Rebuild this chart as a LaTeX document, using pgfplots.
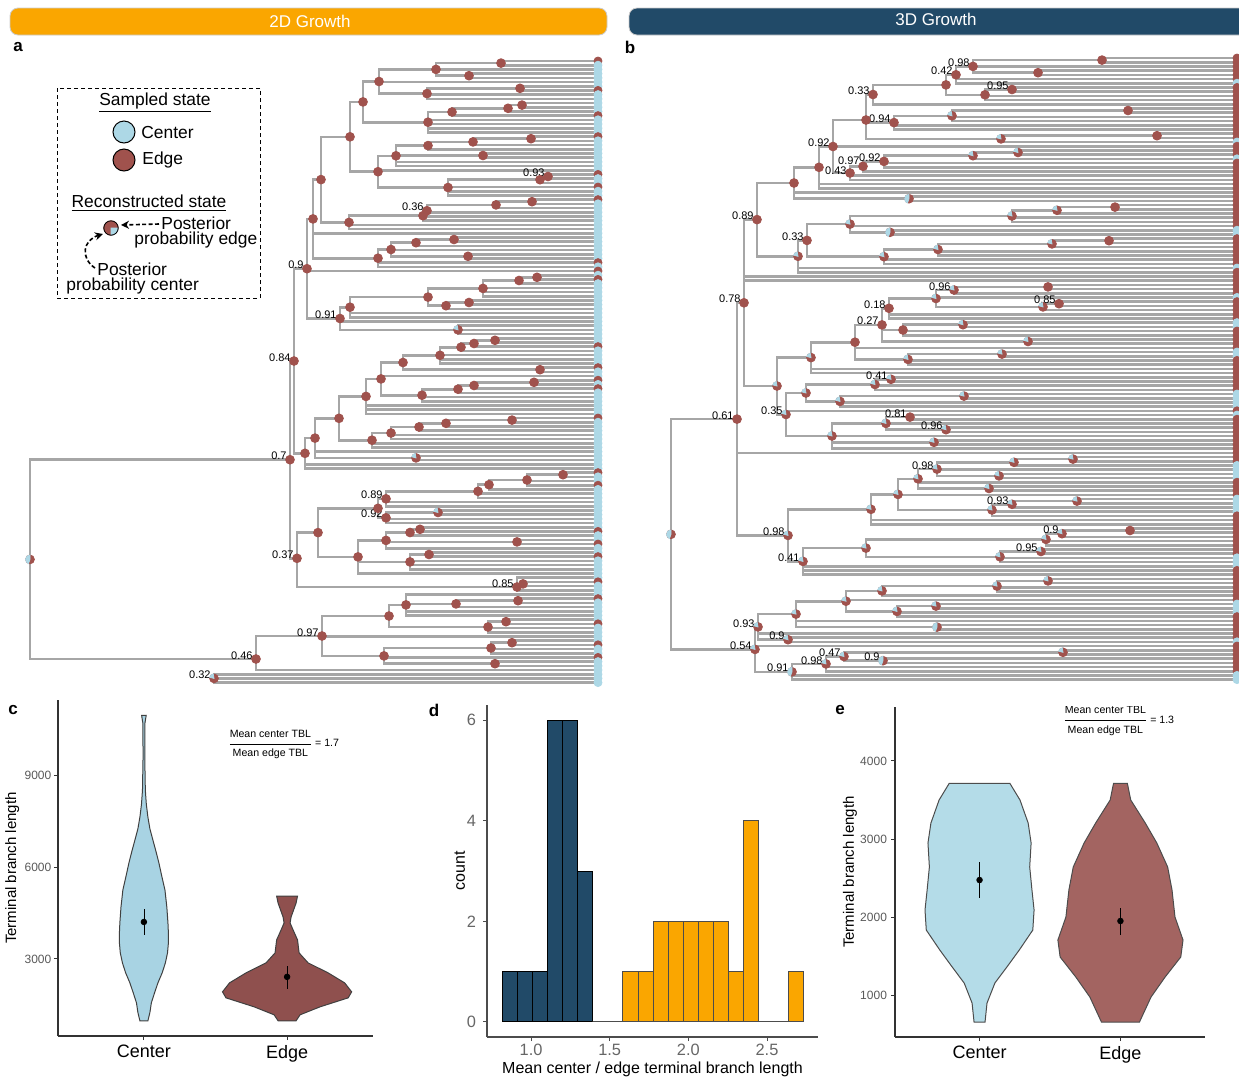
\documentclass[border=0pt]{standalone}
\usepackage{fontspec}
\setmainfont{Liberation Sans}
\usepackage{amsmath}
\usepackage{pgfplots}
\usepackage{pgfplotstable}
\pgfplotsset{compat=1.18}
\usetikzlibrary{arrows.meta}
\definecolor{nodebrown}{RGB}{160,82,77}
\definecolor{tipblue}{RGB}{173,216,230}
\definecolor{treegray}{RGB}{166,166,166}
\definecolor{orangeC}{RGB}{250,166,0}
\definecolor{blueC}{RGB}{33,74,104}
\definecolor{cCen}{RGB}{168,211,227}
\definecolor{cEdg}{RGB}{143,80,78}
\definecolor{eCen}{RGB}{180,220,232}
\definecolor{eEdg}{RGB}{163,100,97}
\pgfdeclareplotmark{bpie}{\fill[nodebrown] (0,0) circle[radius=\pgfplotmarksize];
  \fill[tipblue] (0,0) -- (100:\pgfplotmarksize) arc[start angle=100,end angle=165,radius=\pgfplotmarksize] -- cycle;}
\pgfdeclareplotmark{hpie}{\fill[nodebrown] (0,0) circle[radius=\pgfplotmarksize];
  \fill[tipblue] (0,0) -- (90:\pgfplotmarksize) arc[start angle=90,end angle=250,radius=\pgfplotmarksize] -- cycle;}
\pgfdeclareplotmark{lpie}{\fill[nodebrown] (0,0) circle[radius=\pgfplotmarksize];
  \fill[tipblue] (0,0) -- (-90:\pgfplotmarksize) arc[start angle=-90,end angle=0,radius=\pgfplotmarksize] -- cycle;
  \draw[black,line width=0.4pt] (0,0) circle[radius=\pgfplotmarksize];}
\pgfplotsset{every axis/.append style={/pgf/number format/assume math mode=true,/pgf/number format/1000 sep={}}}
\tikzset{treeline/.style={treegray,line width=1.3pt,line cap=rect}}
\newcommand\plab[3]{\node[anchor=south east,inner sep=0pt,xshift=-1.5pt,yshift=-0.3pt,font=\fontsize{5.5}{6}\selectfont] at (axis cs:#1,#2) {#3};}

\pgfplotstableread{
y xp c
61.0 501 1
65.2 501 0
69.4 436 0
73.6 469 0
77.8 469 0
82.0 379 0
86.2 520 0
90.4 520 1
94.6 427 0
98.8 427 0
103.0 522 0
107.2 522 0
111.4 508 0
115.6 452 1
119.8 428 0
124.0 428 0
128.2 428 0
132.4 428 0
136.6 531 1
140.8 531 0
145.0 473 0
149.2 428 0
153.4 483 0
157.6 483 0
161.8 396 0
166.0 396 0
170.2 378 0
174.4 548 1
178.6 548 0
182.8 540 0
187.0 448 1
191.2 448 0
195.4 448 0
199.6 532 1
203.8 532 0
208.0 496 0
212.2 427 0
216.4 427 0
220.6 423 0
224.8 349 0
229.0 349 0
233.2 313 0
237.4 454 0
241.6 454 0
245.8 416 0
250.0 391 0
254.2 468 0
258.4 468 0
262.6 378 1
266.8 378 0
271.0 307 1
275.2 537 0
279.4 537 1
283.6 519 0
287.8 483 0
292.0 483 0
296.2 483 0
300.4 469 0
304.6 469 0
308.8 446 0
313.0 350 0
317.2 350 0
321.4 340 0
325.6 458 0
329.8 458 0
334.0 458 0
338.2 495 0
342.4 495 0
346.6 474 1
350.8 461 0
355.0 440 0
359.2 440 0
363.4 440 0
367.6 540 1
371.8 540 0
376.0 381 0
380.2 534 1
384.4 534 0
388.6 474 1
392.8 458 0
397.0 422 0
401.2 422 0
405.4 366 0
409.6 366 0
413.8 366 0
418.0 512 1
422.2 512 0
426.4 446 0
430.6 419 0
434.8 391 0
439.0 391 0
443.2 372 0
447.4 372 0
451.6 315 0
455.8 416 0
460.0 416 0
464.2 305 0
468.4 305 0
472.6 563 1
476.8 563 0
481.0 527 0
485.2 527 1
489.4 489 0
493.6 478 0
497.8 478 0
502.0 386 0
506.2 386 0
510.4 438 0
514.6 438 0
518.8 386 0
523.0 386 0
527.2 420 0
531.4 420 1
535.6 410 0
539.8 517 0
544.0 517 1
548.2 386 0
552.4 429 0
556.6 429 1
560.8 410 0
565.0 410 0
569.2 410 0
573.4 358 0
577.6 517 0
581.8 523 1
586.0 523 0
590.2 517 0
594.4 406 0
598.6 518 1
602.8 518 0
607.0 456 0
611.2 406 0
615.4 406 0
619.6 506 0
623.8 506 1
628.0 488 0
632.2 488 0
636.4 322 0
640.6 512 0
644.8 512 1
649.0 491 0
653.2 491 0
657.4 384 1
661.6 495 0
665.8 495 0
670.0 256 0
674.2 214 0
678.4 214 0
682.6 214 0
}\tipsA

\pgfplotstableread{
x y xp yt yb m
501 63.1 436 61.0 65.2 0
469 75.7 436 73.6 77.8 0
436 69.4 379 63.1 75.7 0
520 88.3 427 86.2 90.4 0
427 93.6 379 88.3 98.8 0
379 81.5 363 69.4 93.6 0
522 105.1 508 103.0 107.2 0
508 108.3 452 105.1 111.4 0
452 112.0 428 108.3 115.6 0
428 122.2 363 112.0 132.4 0
363 101.9 350 81.5 122.2 0
531 138.7 473 136.6 140.8 0
473 141.9 428 138.7 145.0 0
428 145.6 396 141.9 149.2 0
483 155.5 396 153.4 157.6 0
396 155.8 378 145.6 166.0 0
548 176.5 540 174.4 178.6 0
540 179.7 448 176.5 182.8 0
448 187.5 378 179.7 195.4 0
378 171.7 350 155.8 187.5 0
350 136.8 321 101.9 171.7 0
532 201.7 496 199.6 203.8 0
496 204.9 427 201.7 208.0 0
427 210.7 423 204.9 216.4 0
423 215.7 349 210.7 220.6 0
349 222.4 321 215.7 229.0 0
321 179.6 313 136.8 222.4 0
454 239.5 416 237.4 241.6 0
416 242.7 391 239.5 245.8 0
468 256.3 391 254.2 258.4 0
391 249.5 378 242.7 256.3 0
378 258.2 313 249.5 266.8 0
313 218.9 307 179.6 258.2 0
537 277.3 519 275.2 279.4 0
519 280.5 483 277.3 283.6 0
483 288.4 428 280.5 296.2 0
469 302.5 446 300.4 304.6 0
446 305.7 428 302.5 308.8 0
428 297.1 350 288.4 305.7 0
350 307.2 340 297.1 317.2 0
458 329.8 340 325.6 334.0 1
340 318.5 307 307.2 329.8 0
307 268.7 294 218.9 318.5 0
495 340.3 474 338.2 342.4 0
474 343.5 461 340.3 346.6 0
461 347.2 440 343.5 350.8 0
440 355.3 403 347.2 363.4 0
540 369.7 403 367.6 371.8 0
403 362.5 381 355.3 369.7 0
534 382.3 474 380.2 384.4 0
474 385.5 458 382.3 388.6 0
458 389.2 422 385.5 392.8 0
422 395.2 381 389.2 401.2 0
381 378.9 366 362.5 395.2 0
366 396.4 339 378.9 413.8 0
512 420.1 446 418.0 422.2 0
446 423.3 419 420.1 426.4 0
419 427.0 391 423.3 430.6 0
391 433.0 372 427.0 439.0 0
372 440.2 339 433.0 447.4 0
339 418.3 315 396.4 440.2 0
416 457.9 315 455.8 460.0 1
315 438.1 305 418.3 457.9 0
305 453.3 294 438.1 468.4 0
294 361.0 290 268.7 453.3 0
563 474.7 527 472.6 476.8 0
527 480.0 489 474.7 485.2 0
489 484.7 478 480.0 489.4 0
478 491.3 386 484.7 497.8 0
386 498.8 378 491.3 506.2 0
438 512.5 386 510.4 514.6 1
386 517.8 378 512.5 523.0 0
378 508.3 318 498.8 517.8 0
420 529.3 410 527.2 531.4 0
410 532.5 386 529.3 535.6 0
517 541.9 386 539.8 544.0 0
386 540.4 358 532.5 548.2 0
429 554.5 410 552.4 556.6 0
410 561.9 358 554.5 569.2 0
358 556.9 318 540.4 573.4 0
318 532.6 297 508.3 556.9 0
523 583.9 517 581.8 586.0 0
517 587.0 297 577.6 590.2 0
297 558.3 290 532.6 587.0 0
290 459.7 30 361.0 558.3 0
518 600.7 456 598.6 602.8 0
456 603.9 406 600.7 607.0 0
406 604.9 389 594.4 615.4 0
506 621.7 488 619.6 623.8 0
488 627.0 389 621.7 632.2 0
389 616.0 322 604.9 627.0 0
512 642.7 491 640.6 644.8 0
491 648.0 384 642.7 653.2 0
495 663.7 384 661.6 665.8 0
384 655.9 322 648.0 663.7 0
322 636.0 256 616.0 655.9 0
256 659.0 30 636.0 670.0 0
214 678.4 214 674.2 682.6 1
30 559.4 30 459.7 659.0 2
}\nodesA

\pgfplotstableread{
y xp c
58.0 1102 1
62.2 1102 1
66.4 973 1
70.6 1038 1
74.8 1038 1
79.0 956 1
83.2 956 0
87.4 1012 1
91.6 1012 1
95.8 985 1
100.0 985 1
104.2 873 1
108.4 1128 1
112.6 1128 1
116.8 952 1
121.0 952 1
125.2 894 1
129.4 894 1
133.6 1157 1
137.8 1157 1
142.0 1001 0
146.2 833 1
150.4 1018 1
154.6 1018 1
158.8 973 0
163.0 884 1
167.2 884 1
171.4 863 1
175.6 850 1
179.8 850 1
184.0 819 1
188.2 819 1
192.4 794 1
196.6 909 1
200.8 909 1
205.0 1115 1
209.2 1115 1
213.4 1057 1
217.6 1012 1
221.8 1012 1
226.0 850 1
230.2 890 0
234.4 890 0
238.6 1109 1
242.8 1109 1
247.0 1052 1
251.2 938 1
255.4 938 1
259.6 884 1
263.8 884 1
268.0 798 0
272.2 798 1
276.4 744 1
280.6 744 1
284.8 1048 1
289.0 1048 1
293.2 954 1
297.4 936 0
301.6 1059 1
305.8 1059 1
310.0 1043 1
314.2 889 1
318.4 889 1
322.6 963 0
326.8 963 0
331.0 903 1
335.2 903 1
339.4 1028 1
343.6 1028 1
347.8 855 1
352.0 1002 0
356.2 1002 0
360.4 908 1
364.6 908 1
368.8 811 1
373.0 811 1
377.2 891 1
381.4 891 1
385.6 875 1
389.8 875 1
394.0 964 0
398.2 964 0
402.4 840 0
406.6 840 0
410.8 786 1
415.0 910 0
419.2 910 1
423.4 886 1
427.6 946 1
431.8 946 1
436.0 832 1
440.2 934 1
444.4 934 1
448.6 832 1
452.8 737 1
457.0 1073 1
461.2 1073 1
465.4 1014 0
469.6 937 0
473.8 999 0
478.0 999 0
482.2 918 1
486.4 989 1
490.6 989 1
494.8 898 1
499.0 1077 0
503.2 1077 0
507.4 1012 0
511.6 992 0
515.8 992 1
520.0 871 1
524.2 871 1
528.4 1130 1
532.6 1130 1
536.8 1062 1
541.0 1046 1
545.2 1046 1
549.4 1041 1
553.6 1041 1
557.8 1000 0
562.0 1000 0
566.2 803 0
570.4 803 1
574.6 803 1
578.8 1048 1
583.0 1048 1
587.2 997 1
591.4 997 1
595.6 882 1
599.8 846 1
604.0 936 0
608.2 936 0
612.4 897 0
616.6 897 1
620.8 796 1
625.0 937 1
629.2 937 1
633.4 758 1
637.6 788 1
641.8 788 0
646.0 755 1
650.2 1063 1
654.4 1063 1
658.6 883 1
662.8 883 1
667.0 826 1
671.2 826 1
675.4 792 0
679.6 792 0
}\tipsB

\pgfplotstableread{
x y xp yt yb m
1102 60.1 973 58.0 62.2 0
1038 72.7 973 70.6 74.8 0
973 66.4 956 60.1 72.7 0
956 74.8 946 66.4 83.2 0
1012 89.5 985 87.4 91.6 0
985 94.8 946 89.5 100.0 0
946 84.9 873 74.8 94.8 0
873 94.5 866 84.9 104.2 0
1128 110.5 952 108.4 112.6 0
952 115.8 894 110.5 121.0 1
894 122.6 866 115.8 129.4 0
1157 135.7 1001 133.6 137.8 0
1001 138.9 866 135.7 142.0 1
866 120.0 833 94.5 138.9 0
1018 152.5 973 150.4 154.6 1
973 155.7 884 152.5 158.8 1
884 161.4 863 155.7 167.2 0
863 166.3 850 161.4 171.4 0
850 173.0 833 166.3 179.8 0
833 146.5 819 120.0 173.0 0
819 167.3 794 146.5 188.2 0
909 198.7 794 196.6 200.8 2
794 183.0 757 167.3 198.7 0
1115 207.1 1057 205.0 209.2 0
1057 210.3 1012 207.1 213.4 1
1012 216.0 850 210.3 221.8 1
890 232.3 850 230.2 234.4 2
850 224.1 807 216.0 232.3 1
1109 240.7 1052 238.6 242.8 0
1052 243.9 938 240.7 247.0 1
938 249.5 884 243.9 255.4 1
884 256.7 807 249.5 263.8 1
807 240.4 798 224.1 256.7 0
798 256.3 757 240.4 272.2 1
757 219.6 744 183.0 256.3 0
1048 286.9 954 284.8 289.0 0
954 290.0 936 286.9 293.2 1
1059 303.7 1043 301.6 305.8 0
1043 306.9 936 303.7 310.0 1
936 298.5 889 290.0 306.9 1
889 308.3 882 298.5 318.4 0
963 324.7 903 322.6 326.8 1
903 330.0 882 324.7 335.2 0
1028 341.5 882 339.4 343.6 1
882 324.9 855 308.3 341.5 0
1002 354.1 908 352.0 356.2 1
908 359.4 855 354.1 364.6 1
855 342.2 811 324.9 359.4 0
811 357.6 777 342.2 373.0 1
891 379.3 875 377.2 381.4 1
875 384.5 806 379.3 389.8 1
964 396.1 840 394.0 398.2 1
840 401.4 806 396.1 406.6 1
806 393.0 786 384.5 401.4 1
910 417.1 886 415.0 419.2 0
946 429.7 886 427.6 431.8 1
886 423.4 832 417.1 429.7 1
934 442.3 832 440.2 444.4 1
832 436.0 786 423.4 448.6 1
786 414.5 777 393.0 436.0 1
777 386.0 744 357.6 414.5 1
744 302.8 737 219.6 386.0 0
1073 459.1 1014 457.0 461.2 1
1014 462.3 937 459.1 465.4 1
999 475.9 937 473.8 478.0 1
937 469.1 918 462.3 475.9 1
989 488.5 918 486.4 490.6 1
918 478.8 898 469.1 488.5 1
1077 501.1 1012 499.0 503.2 1
1012 504.3 992 501.1 507.4 1
992 510.0 898 504.3 515.8 1
898 494.4 871 478.8 510.0 1
871 509.3 788 494.4 524.2 1
1130 530.5 1062 528.4 532.6 0
1062 533.7 1046 530.5 536.8 1
1046 539.4 866 533.7 545.2 1
1041 551.5 1000 549.4 553.6 1
1000 556.8 866 551.5 562.0 1
866 548.1 803 539.4 556.8 1
803 561.4 788 548.1 574.6 1
788 535.4 737 509.3 561.4 1
737 419.1 671 302.8 535.4 0
1048 580.9 997 578.8 583.0 1
997 586.1 882 580.9 591.4 1
882 590.9 846 586.1 595.6 1
936 606.1 897 604.0 608.2 1
897 611.4 846 606.1 616.6 1
846 601.2 796 590.9 611.4 1
937 627.1 796 625.0 629.2 2
796 614.1 758 601.2 627.1 1
788 639.7 758 637.6 641.8 1
758 626.9 755 614.1 639.7 1
1063 652.3 844 650.2 654.4 1
883 660.7 844 658.6 662.8 2
844 656.5 826 652.3 660.7 1
826 663.9 792 656.5 671.2 1
792 671.8 755 663.9 679.6 2
755 649.4 671 626.9 671.8 1
671 534.3 671 419.1 649.4 2
}\nodesB

\begin{document}
\begin{tikzpicture}
\useasboundingbox (0,0) rectangle (619.5pt,-540.5pt);
% ---------------- canvas with trees and legend ----------------
\begin{axis}[at={(0,0)}, anchor=north west, x=0.5pt, y=0.5pt,
  xmin=0, xmax=1239, ymin=0, ymax=1081, y dir=reverse,
  hide axis, clip=false, enlargelimits=false]
% tree a
\addplot[treeline, no markers, quiver={u=\thisrow{x}-\thisrow{xp}, v=0}] table[x=xp,y=y] {\nodesA};
\addplot[treeline, no markers, quiver={u=0, v=\thisrow{yb}-\thisrow{yt}}] table[x=x,y=yt] {\nodesA};
\addplot[treeline, no markers, quiver={u=598-\thisrow{xp}, v=0}] table[x=xp,y=y] {\tipsA};
\addplot[scatter, only marks, scatter src=explicit symbolic, mark size=2pt,
  scatter/classes={0={mark=*,tipblue},1={mark=*,nodebrown}}] table[x expr=598,y=y,meta=c] {\tipsA};
\addplot[scatter, only marks, scatter src=explicit symbolic, mark size=2.2pt,
  scatter/classes={0={mark=*,nodebrown},1={mark=bpie},2={mark=hpie}}] table[x=x,y=y,meta=m] {\nodesA};
% tree b
\addplot[treeline, no markers, quiver={u=\thisrow{x}-\thisrow{xp}, v=0}] table[x=xp,y=y] {\nodesB};
\addplot[treeline, no markers, quiver={u=0, v=\thisrow{yb}-\thisrow{yt}}] table[x=x,y=yt] {\nodesB};
\addplot[treeline, no markers, quiver={u=1237-\thisrow{xp}, v=0}] table[x=xp,y=y] {\tipsB};
\addplot[scatter, only marks, scatter src=explicit symbolic, mark size=2pt,
  scatter/classes={0={mark=*,tipblue},1={mark=*,nodebrown}}] table[x expr=1237,y=y,meta=c] {\tipsB};
\addplot[scatter, only marks, scatter src=explicit symbolic, mark size=2.2pt,
  scatter/classes={0={mark=*,nodebrown},1={mark=bpie},2={mark=hpie}}] table[x=x,y=y,meta=m] {\nodesB};
% legend glyphs
\addplot[only marks, mark=*, mark size=5.5pt, mark options={fill=tipblue,draw=black,line width=0.5pt}] coordinates {(124,132)};
\addplot[only marks, mark=*, mark size=5.5pt, mark options={fill=nodebrown,draw=black,line width=0.5pt}] coordinates {(124,160)};
\addplot[only marks, mark=lpie, mark size=3.6pt] coordinates {(111,228)};
% labels tree a
\plab{548}{176.5}{0.93}\plab{427}{210.7}{0.36}\plab{307}{268.7}{0.9}\plab{340}{318.5}{0.91}
\plab{294}{361.0}{0.84}\plab{290}{459.7}{0.7}\plab{386}{498.8}{0.89}\plab{386}{517.8}{0.92}
\plab{297}{558.3}{0.37}\plab{517}{587.0}{0.85}\plab{322}{636.0}{0.97}\plab{256}{659.0}{0.46}
\plab{214}{678.4}{0.32}
% labels tree b
\plab{973}{66.4}{0.98}\plab{956}{74.8}{0.42}\plab{1012}{89.5}{0.95}\plab{873}{94.5}{0.33}
\plab{894}{122.6}{0.94}\plab{833}{146.5}{0.92}\plab{884}{161.4}{0.92}\plab{863}{164.3}{0.97}
\plab{850}{174.0}{0.43}\plab{757}{219.6}{0.89}\plab{807}{240.4}{0.33}\plab{744}{302.8}{0.78}
\plab{954}{290.0}{0.96}\plab{1059}{303.7}{0.85}\plab{889}{308.3}{0.18}\plab{882}{324.9}{0.27}
\plab{891}{379.3}{0.41}\plab{786}{414.5}{0.35}\plab{910}{417.1}{0.81}\plab{946}{429.7}{0.96}
\plab{737}{419.1}{0.61}\plab{937}{469.1}{0.98}\plab{1012}{504.3}{0.93}\plab{1062}{533.7}{0.9}
\plab{1041}{551.5}{0.95}\plab{788}{535.4}{0.98}\plab{803}{561.4}{0.41}\plab{758}{626.9}{0.93}
\plab{788}{639.7}{0.9}\plab{755}{649.4}{0.54}\plab{844}{656.5}{0.47}\plab{826}{663.9}{0.98}
\plab{792}{671.8}{0.91}\plab{883}{660.7}{0.9}
% header bars
\draw[fill=orangeC, draw=black!20, rounded corners=4pt, line width=0.4pt] (axis cs:10,8) rectangle (axis cs:607,35);
\node[text=white, font=\fontsize{8.5}{10}\selectfont] at (axis cs:310,21) {2D Growth};
\draw[fill=blueC, draw=black!20, rounded corners=4pt, line width=0.4pt] (axis cs:629,8) rectangle (axis cs:1255,35);
\node[text=white, font=\fontsize{8.5}{10}\selectfont] at (axis cs:936,19) {3D Growth};
% panel letters
\node[font=\bfseries\fontsize{8.5}{10}\selectfont] at (axis cs:18,47) {a};
\node[font=\bfseries\fontsize{8.5}{10}\selectfont] at (axis cs:630,47) {b};
\node[font=\bfseries\fontsize{8.5}{10}\selectfont] at (axis cs:13,710) {c};
\node[font=\bfseries\fontsize{8.5}{10}\selectfont] at (axis cs:434,710) {d};
\node[font=\bfseries\fontsize{8.5}{10}\selectfont] at (axis cs:840,710) {e};
% legend box
\draw[dashed, line width=0.5pt, dash pattern=on 2pt off 1.5pt] (axis cs:57,88) rectangle (axis cs:260,298);
\node[font=\fontsize{8.7}{9}\selectfont] at (axis cs:155,103) {\underline{Sampled state}};
\node[anchor=west, inner sep=0pt, font=\fontsize{8.7}{9}\selectfont] at (axis cs:141,133) {Center};
\node[anchor=west, inner sep=0pt, font=\fontsize{8.7}{9}\selectfont] at (axis cs:142,160) {Edge};
\node[font=\fontsize{8.7}{9}\selectfont] at (axis cs:149,203) {\underline{Reconstructed state}};
\node[anchor=west, inner sep=0pt, font=\fontsize{8.7}{9}\selectfont] at (axis cs:161,223) {Posterior};
\node[anchor=west, inner sep=0pt, font=\fontsize{8.7}{9}\selectfont] at (axis cs:134,240) {probability edge};
\node[anchor=west, inner sep=0pt, font=\fontsize{8.7}{9}\selectfont] at (axis cs:97,269) {Posterior};
\node[anchor=west, inner sep=0pt, font=\fontsize{8.7}{9}\selectfont] at (axis cs:66,286) {probability center};
\draw[dashed, line width=0.8pt, dash pattern=on 2pt off 1.2pt, -{Stealth[length=4pt,width=4pt]}] (axis cs:159,224) -- (axis cs:121,225);
\draw[dashed, line width=0.8pt, dash pattern=on 2pt off 1.2pt, -{Stealth[length=4pt,width=4pt]}] (axis cs:95,268) .. controls (axis cs:80,258) and (axis cs:83,240) .. (axis cs:103,234);
\end{axis}

% ---------------- panel c ----------------
\begin{axis}[at={(29pt,-518pt)}, anchor=south west, scale only axis,
  width=157.5pt, height=168pt, xmin=0.4, xmax=2.6, ymin=481, ymax=11459, enlargelimits=false,
  scaled y ticks=false,
  axis x line=bottom, axis y line=left, axis line style={-, black!80, line width=0.6pt},
  xtick={1,2}, xticklabels={Center,Edge}, ytick={3000,6000,9000},
  tick align=outside, major tick length=2pt, tick style={black!80, line width=0.5pt},
  yticklabel style={font=\fontsize{6}{7}\selectfont, text=black!65, xshift=2.2pt},
  xticklabel style={font=\fontsize{9}{10}\selectfont, text=black, yshift=1pt},
  ylabel={Terminal branch length},
  ylabel style={font=\fontsize{7.5}{8}\selectfont, at={(axis description cs:-0.145,0.5)}, anchor=center}]
\addplot[fill=cCen, draw=black!75, line width=0.5pt] coordinates {
(0.972,978)(0.958,1250)(0.948,1565)(0.925,1900)(0.902,2217)(0.872,2550)(0.850,2870)(0.835,3200)(0.829,3522)(0.829,3850)(0.832,4174)(0.840,4700)(0.853,5250)(0.875,5700)(0.895,6130)(0.915,6500)(0.937,6880)(0.958,7250)(0.972,7631)(0.983,8050)(0.990,8511)(0.994,9587)(0.993,10696)(0.984,10957)
(1.016,10957)(1.007,10696)(1.006,9587)(1.010,8511)(1.017,8050)(1.028,7631)(1.042,7250)(1.063,6880)(1.085,6500)(1.105,6130)(1.125,5700)(1.147,5250)(1.160,4700)(1.168,4174)(1.171,3850)(1.171,3522)(1.165,3200)(1.150,2870)(1.128,2550)(1.098,2217)(1.075,1900)(1.052,1565)(1.042,1250)(1.028,978)} -- cycle;
\addplot[fill=cEdg, draw=black!75, line width=0.5pt] coordinates {
(1.937,978)(1.909,1174)(1.769,1435)(1.573,1728)(1.549,1924)(1.598,2217)(1.713,2543)(1.853,2870)(1.916,3196)(1.927,3620)(1.958,3946)(1.979,4174)(1.972,4370)(1.937,4826)(1.927,5054)
(2.073,5054)(2.063,4826)(2.028,4370)(2.021,4174)(2.042,3946)(2.073,3620)(2.084,3196)(2.147,2870)(2.287,2543)(2.402,2217)(2.451,1924)(2.427,1728)(2.231,1435)(2.091,1174)(2.063,978)} -- cycle;
\addplot[black, line width=0.4pt] coordinates {(1,3783)(1,4631)};
\addplot[black, line width=0.4pt] coordinates {(2,2022)(2,2772)};
\addplot[only marks, mark=*, mark size=1.4pt, black] coordinates {(1,4207)(2,2413)};
\node[anchor=west, inner sep=0pt, font=\fontsize{5.3}{6}\selectfont] at (axis cs:1.58,10011) {$\dfrac{\text{Mean center TBL}}{\text{Mean edge TBL}}$\,= 1.7};
\end{axis}

% ---------------- panel d ----------------
\begin{axis}[at={(243.5pt,-518.5pt)}, anchor=south west, scale only axis,
  width=165.5pt, height=166pt, xmin=0.72, xmax=2.824, ymin=-0.3, ymax=6.3, enlargelimits=false,
  axis x line=bottom, axis y line=left, axis line style={-, black!70, line width=0.6pt},
  xtick={1,1.5,2,2.5}, xticklabels={1.0,1.5,2.0,2.5}, ytick={0,2,4,6},
  tick align=outside, major tick length=2pt, tick style={black!70, line width=0.5pt},
  ticklabel style={font=\fontsize{8.2}{9}\selectfont, text=black!60},
  xticklabel style={yshift=2pt},
  xlabel={Mean center / edge terminal branch length}, ylabel={count},
  xlabel style={font=\fontsize{8}{9}\selectfont, yshift=4pt},
  ylabel style={font=\fontsize{8}{9}\selectfont, at={(axis description cs:-0.082,0.5)}, anchor=center}]
\addplot[ybar interval, fill=blueC, draw=black, line width=0.5pt] coordinates {(0.816,1)(0.912,1)(1.008,1)(1.104,6)(1.200,6)(1.296,3)(1.392,0)};
\addplot[ybar interval, fill=orangeC, draw=black!70, line width=0.5pt] coordinates {(1.392,0)(1.488,0)(1.584,1)(1.680,1)(1.776,2)(1.872,2)(1.968,2)(2.064,2)(2.160,2)(2.256,1)(2.352,4)(2.447,0)(2.543,0)(2.639,1)(2.735,0)};
\end{axis}

% ---------------- panel e ----------------
\begin{axis}[at={(447.5pt,-518.5pt)}, anchor=south west, scale only axis,
  width=155pt, height=165pt, xmin=0.4, xmax=2.6, ymin=462, ymax=4692, enlargelimits=false,
  scaled y ticks=false,
  axis x line=bottom, axis y line=left, axis line style={-, black!80, line width=0.6pt},
  xtick={1,2}, xticklabels={Center,Edge}, ytick={1000,2000,3000,4000},
  tick align=outside, major tick length=2pt, tick style={black!80, line width=0.5pt},
  yticklabel style={font=\fontsize{6}{7}\selectfont, text=black!65, xshift=1.5pt},
  xticklabel style={font=\fontsize{9}{10}\selectfont, text=black, yshift=1pt},
  ylabel={Terminal branch length},
  ylabel style={font=\fontsize{7.5}{8}\selectfont, at={(axis description cs:-0.145,0.5)}, anchor=center}]
\addplot[fill=eCen, draw=black!70, line width=0.5pt] coordinates {
(0.961,654)(0.947,897)(0.891,1154)(0.806,1359)(0.718,1577)(0.622,1833)(0.613,2090)(0.628,2346)(0.644,2641)(0.634,2949)(0.655,3205)(0.713,3500)(0.785,3714)
(1.215,3714)(1.287,3500)(1.345,3205)(1.366,2949)(1.356,2641)(1.372,2346)(1.387,2090)(1.378,1833)(1.282,1577)(1.194,1359)(1.109,1154)(1.053,897)(1.039,654)} -- cycle;
\addplot[fill=eEdg, draw=black!70, line width=0.5pt] coordinates {
(1.865,654)(1.783,974)(1.683,1231)(1.572,1487)(1.556,1705)(1.613,2000)(1.634,2346)(1.665,2641)(1.742,2949)(1.824,3205)(1.927,3500)(1.951,3714)
(2.049,3714)(2.073,3500)(2.176,3205)(2.258,2949)(2.335,2641)(2.366,2346)(2.387,2000)(2.444,1705)(2.428,1487)(2.317,1231)(2.217,974)(2.135,654)} -- cycle;
\addplot[black, line width=0.4pt] coordinates {(1,2244)(1,2705)};
\addplot[black, line width=0.4pt] coordinates {(2,1769)(2,2115)};
\addplot[only marks, mark=*, mark size=1.4pt, black] coordinates {(1,2474)(2,1949)};
\node[anchor=west, inner sep=0pt, font=\fontsize{5.3}{6}\selectfont] at (axis cs:1.585,4513) {$\dfrac{\text{Mean center TBL}}{\text{Mean edge TBL}}$\,= 1.3};
\end{axis}
\end{tikzpicture}
\end{document}
